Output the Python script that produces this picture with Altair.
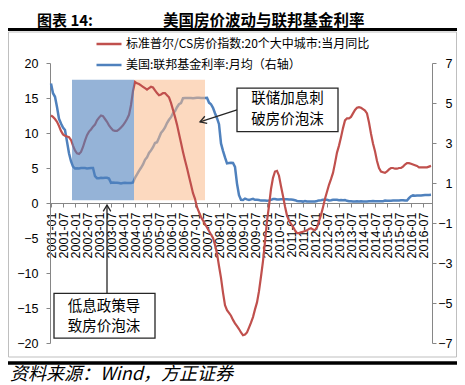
import altair as alt
import pandas as pd

# ---------------- data ----------------
tick_labels = [
    "2001-01", "2001-07", "2002-01", "2002-07", "2003-01", "2003-07", "2004-01", "2004-07",
    "2005-01", "2005-07", "2006-01", "2006-07", "2007-01", "2007-07", "2008-01", "2008-07",
    "2009-01", "2009-07", "2010-01", "2010-07", "2011-01", "2011-07", "2012-01", "2012-07",
    "2013-01", "2013-07", "2014-01", "2014-07", "2015-01", "2015-07", "2016-01", "2016-07",
]
tick_months = list(range(0, 187, 6))

# S&P/Case-Shiller 20-city YoY (%), monthly 2001-01 .. 2016-11 (left axis)
red_values = [
    12.5, 12.3, 12.0, 11.6, 11.0, 10.3, 9.8, 9.6, 9.5, 9.4, 9.0, 8.2,
    7.5, 7.1, 7.0, 7.3, 8.0, 8.9, 9.7, 10.2, 10.5, 10.9, 11.2, 11.8,
    12.2, 12.5, 12.4, 12.0, 11.6, 11.1, 10.7, 10.4, 10.3, 10.3, 10.5, 10.8,
    11.1, 11.5, 12.0, 12.6, 14.0, 16.0, 17.3, 17.1, 17.0, 16.8, 16.6, 16.4,
    16.2, 16.4, 16.6, 16.5, 16.1, 15.7, 15.4, 15.5, 15.7, 15.7, 15.4, 15.1,
    14.3, 13.3, 12.3, 11.2, 9.9, 8.6, 7.3, 6.1, 5.0, 3.8, 2.6, 1.4,
    0.6, -0.6, -1.3, -2.0, -2.5, -3.0, -3.5, -4.0, -4.5, -5.0, -6.0, -7.2,
    -9.0, -10.7, -12.8, -14.6, -15.3, -15.7, -16.1, -16.7, -17.2, -17.6, -18.0, -18.5,
    -18.9, -18.8, -18.5, -17.8, -17.1, -16.3, -15.2, -14.2, -12.6, -10.5, -8.3, -5.5,
    -2.6, -0.4, 2.0, 3.6, 4.5, 4.6, 3.9, 2.4, 1.0, -0.5, -1.8, -2.5,
    -3.0, -3.4, -3.9, -4.3, -4.3, -4.2, -4.1, -4.0, -3.9, -3.7, -3.6, -3.8,
    -3.9, -3.5, -2.6, -1.7, -0.6, 0.6, 1.6, 2.6, 3.4, 4.3, 5.7, 7.2,
    8.2, 9.4, 10.7, 11.8, 12.1, 12.1, 12.3, 12.8, 13.3, 13.6, 13.7, 13.6,
    13.4, 13.2, 12.8, 11.5, 9.9, 8.5, 7.4, 6.0, 5.0, 4.5, 4.4, 4.3,
    4.5, 4.8, 5.0, 5.0, 4.9, 4.9, 5.0, 5.0, 5.2, 5.5, 5.7, 5.7,
    5.6, 5.5, 5.4, 5.3, 5.1, 5.1, 5.1, 5.1, 5.1, 5.2, 5.3,
]

# US federal funds rate, monthly average (%), 2001-01 .. 2016-11 (right axis)
blue_values = [
    5.98, 5.49, 5.31, 4.80, 4.21, 3.97, 3.77, 3.65, 3.07, 2.49, 2.09, 1.82,
    1.73, 1.74, 1.73, 1.75, 1.75, 1.75, 1.73, 1.74, 1.75, 1.75, 1.34, 1.24,
    1.24, 1.26, 1.25, 1.26, 1.26, 1.22, 1.01, 1.03, 1.01, 1.01, 1.00, 0.98,
    1.00, 1.01, 1.00, 1.00, 1.00, 1.03, 1.26, 1.43, 1.61, 1.76, 1.93, 2.16,
    2.28, 2.50, 2.63, 2.79, 3.00, 3.04, 3.26, 3.50, 3.62, 3.78, 4.00, 4.16,
    4.29, 4.49, 4.59, 4.79, 4.94, 4.99, 5.24, 5.25, 5.25, 5.25, 5.25, 5.24,
    5.25, 5.26, 5.26, 5.25, 5.25, 5.25, 5.26, 5.02, 4.94, 4.76, 4.49, 4.24,
    3.94, 2.98, 2.61, 2.28, 1.98, 2.00, 2.01, 2.00, 1.81, 0.97, 0.39, 0.16,
    0.15, 0.22, 0.18, 0.15, 0.18, 0.21, 0.16, 0.16, 0.15, 0.12, 0.12, 0.12,
    0.11, 0.13, 0.16, 0.20, 0.20, 0.18, 0.18, 0.19, 0.19, 0.19, 0.19, 0.18,
    0.17, 0.16, 0.14, 0.10, 0.09, 0.09, 0.07, 0.10, 0.08, 0.07, 0.08, 0.07,
    0.08, 0.10, 0.13, 0.14, 0.16, 0.16, 0.16, 0.13, 0.14, 0.16, 0.16, 0.16,
    0.14, 0.15, 0.14, 0.15, 0.11, 0.09, 0.09, 0.08, 0.08, 0.09, 0.08, 0.09,
    0.07, 0.07, 0.08, 0.09, 0.09, 0.10, 0.09, 0.09, 0.09, 0.09, 0.09, 0.12,
    0.11, 0.11, 0.11, 0.12, 0.12, 0.13, 0.13, 0.14, 0.14, 0.12, 0.12, 0.24,
    0.34, 0.38, 0.36, 0.37, 0.37, 0.38, 0.39, 0.40, 0.40, 0.40, 0.41,
]
months = list(range(len(red_values)))

red_name = "标准普尔/CS房价指数:20个大中城市:当月同比"
blue_name = "美国:联邦基金利率:月均（右轴）"

# shaded periods (month index, left-axis values)
blue_shade = {"start": [10.5], "end": [41.5], "low": [0.4], "high": [17.6]}
orange_shade = {"start": [41.5], "end": [77.0], "low": [0.4], "high": [17.6]}

# annotations (data coordinates on the left axis)
ann_boxes = {"x0": [93.0, 1.5], "x1": [143.5, 52.0], "y0": [10.2, -19.3], "y1": [16.4, -12.9]}
ann_texts = {"x": [118.3, 118.3, 26.5, 26.5], "y": [14.8, 11.8, -14.8, -17.7],
             "t": ["联储加息刺", "破房价泡沫", "低息政策导", "致房价泡沫"]}
ann_arrows = {"x0": [93.0, 28.0], "x1": [74.5, 28.0], "y0": [13.3, -12.9], "y1": [11.6, -0.3]}

RED = "#C0504D"
BLUE = "#4F81BD"
CJK = "Noto Sans CJK SC"
NUM = "Liberation Sans"

W, H = 382, 280

red_df = pd.DataFrame({"m": months, "v": red_values, "series": red_name})
blue_df = pd.DataFrame({"m": months, "v": blue_values, "series": blue_name})

label_expr = "[" + ",".join("'" + t + "'" for t in tick_labels) + "][datum.value / 6]"

x_axis = alt.Axis(
    values=tick_months, labelExpr=label_expr, labelAngle=270, labelOverlap=False,
    offset=-H / 2, title=None, grid=False, tickSize=4, labelPadding=5,
    labelFont=NUM, labelFontSize=12.5, labelColor="#000000",
    domainColor="#868686", tickColor="#868686",
)
x_scale = alt.Scale(domain=[-0.5, 190.5], nice=False, zero=False)

left_axis = alt.Axis(
    values=[-20, -15, -10, -5, 0, 5, 10, 15, 20], orient="left", title=None, grid=False,
    tickSize=4, labelPadding=8, labelFont=NUM, labelFontSize=12.5, labelColor="#000000",
    domainColor="#868686", tickColor="#868686",
)
left_scale = alt.Scale(domain=[-20, 20], nice=False, zero=False)

right_axis = alt.Axis(
    values=[-7, -5, -3, -1, 1, 3, 5, 7], orient="right", title=None, grid=False,
    tickSize=4, labelPadding=16, labelAlign="right", labelFont=NUM, labelFontSize=12.5,
    labelColor="#000000", domainColor="#868686", tickColor="#868686",
)
right_scale = alt.Scale(domain=[-7, 7], nice=False, zero=False)

color = alt.Color(
    "series:N",
    scale=alt.Scale(domain=[red_name, blue_name], range=[RED, BLUE]),
    legend=alt.Legend(
        title=None, orient="none", legendX=45, legendY=-33, direction="vertical",
        symbolType="stroke", symbolSize=625, symbolStrokeWidth=2.5, labelFont=CJK,
        labelFontSize=12, labelColor="#000000", labelLimit=400, rowPadding=1,
        padding=0, labelOffset=3,
    ),
)


def X(field):
    return alt.X(field, type="quantitative", scale=x_scale, axis=x_axis)


def YL(field):
    return alt.Y(field, type="quantitative", scale=left_scale, axis=left_axis)


blue_line = alt.Chart(blue_df).mark_line(strokeWidth=2.5).encode(
    x=X("m"), y=alt.Y("v:Q", scale=right_scale, axis=right_axis), color=color
)

orange_rect = alt.Chart(pd.DataFrame(orange_shade)).mark_rect(
    fill="#F9B98A", fillOpacity=0.55
).encode(x=X("start"), x2="end", y=YL("low"), y2="high")

red_line = alt.Chart(red_df).mark_line(strokeWidth=2.2).encode(
    x=X("m"), y=YL("v"), color=color
)

blue_rect = alt.Chart(pd.DataFrame(blue_shade)).mark_rect(
    fill=BLUE, fillOpacity=0.6
).encode(x=X("start"), x2="end", y=YL("low"), y2="high")

boxes = alt.Chart(pd.DataFrame(ann_boxes)).mark_rect(
    fill="white", stroke="#262626", strokeWidth=1.3
).encode(x=X("x0"), x2="x1", y=YL("y0"), y2="y1")

box_text = alt.Chart(pd.DataFrame(ann_texts)).mark_text(
    font=CJK, fontSize=14.5, color="#000000", align="center", baseline="middle"
).encode(x=X("x"), y=YL("y"), text="t:N")

arrows = alt.Chart(pd.DataFrame(ann_arrows)).mark_rule(
    color="#262626", strokeWidth=1.3
).encode(x=X("x0"), x2="x1", y=YL("y0"), y2="y1")

head_path = "M-1,-0.6L0,0L-1,0.6"
head1 = alt.Chart(pd.DataFrame({"x": [74.5], "y": [11.6]})).mark_point(
    shape=head_path, filled=False, stroke="#262626", strokeWidth=1.3, size=160,
    angle=162, opacity=1
).encode(x=X("x"), y=YL("y"))
head2 = alt.Chart(pd.DataFrame({"x": [28.0], "y": [-0.3]})).mark_point(
    shape=head_path, filled=False, stroke="#262626", strokeWidth=1.3, size=160,
    angle=270, opacity=1
).encode(x=X("x"), y=YL("y"))

one = pd.DataFrame({"a": [0]})

frame = alt.Chart(one).mark_rect(fill="white", fillOpacity=0, stroke="#bfbfbf", strokeWidth=1).encode(
    x=alt.value(-41.5), x2=alt.value(406.5), y=alt.value(-31), y2=alt.value(294)
)
top_rule = alt.Chart(one).mark_rule(color="#000000", strokeWidth=3.2).encode(
    x=alt.value(-42), x2=alt.value(407), y=alt.value(-33.5)
)
bottom_rule = alt.Chart(one).mark_rule(color="#000000", strokeWidth=3.5).encode(
    x=alt.value(-42), x2=alt.value(407), y=alt.value(300)
)
title1 = alt.Chart(pd.DataFrame({"t": ["图表 14:"]})).mark_text(
    font=CJK, fontSize=15, fontWeight="bold", align="left", baseline="middle", color="#000000"
).encode(x=alt.value(-13), y=alt.value(-42.5), text="t:N")
title2 = alt.Chart(pd.DataFrame({"t": ["美国房价波动与联邦基金利率"]})).mark_text(
    font=CJK, fontSize=15.5, fontWeight="bold", align="left", baseline="middle", color="#000000"
).encode(x=alt.value(113), y=alt.value(-42.5), text="t:N")
footer = alt.Chart(pd.DataFrame({"t": ["资料来源：Wind，方正证券"]})).mark_text(
    font=CJK, fontSize=18, fontStyle="italic", align="left", baseline="middle", color="#000000"
).encode(x=alt.value(-40), y=alt.value(312), text="t:N")

left_layer = alt.layer(
    frame, orange_rect, red_line, blue_rect, arrows, head1, head2, boxes, box_text,
    top_rule, bottom_rule, title1, title2, footer,
)

chart = (
    alt.layer(blue_line, left_layer)
    .resolve_scale(y="independent")
    .properties(
        width=W, height=H,
        padding={"left": 42, "top": 55, "right": 25, "bottom": 42},
        autosize=alt.AutoSizeParams(type="none"),
    )
    .configure_view(strokeWidth=0)
)

chart.save("out.html", embed_options={"renderer": "svg", "actions": False})
